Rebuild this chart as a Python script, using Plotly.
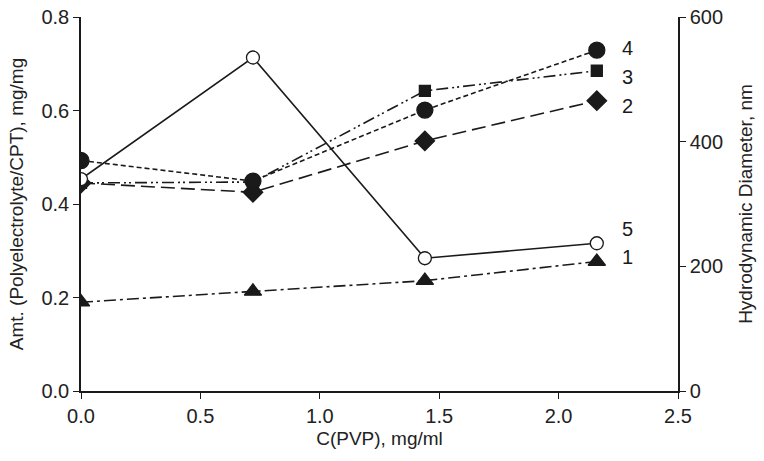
import plotly.graph_objects as go

x_pvp = [0.0, 0.72, 1.44, 2.16]
s1 = [0.19, 0.213, 0.236, 0.277]
s2 = [0.445, 0.425, 0.535, 0.621]
s3 = [0.445, 0.447, 0.642, 0.685]
s4 = [0.493, 0.449, 0.601, 0.729]
s5_diam = [340, 535, 213, 237]

label_x = 2.29
label_y_left = [0.287, 0.61, 0.672, 0.734]
label_y_right = [260]

fig = go.Figure()
ink = "#1a1a1a"

def add(y, dash, symbol, size, name, yaxis="y", fill=ink):
    fig.add_trace(go.Scatter(
        x=x_pvp, y=y, mode="lines+markers", name=name, yaxis=yaxis,
        line=dict(color=ink, width=1.6, dash=dash),
        marker=dict(symbol=symbol, size=size, color=fill,
                    line=dict(color=ink, width=1.3)),
        showlegend=False))

add(s1, "12px,4px,3px,4px", "triangle-up", 15, "1")
add(s2, "14px,6px", "diamond", 15, "2")
add(s3, "12px,4px,2px,3px,2px,4px", "square", 11, "3")
add(s4, "5px,3px", "circle", 16, "4")
add(s5_diam, "solid", "circle", 13, "5", yaxis="y2", fill="white")

FONT = "Liberation Sans, Arial, sans-serif"
for t, yv in zip(["1", "2", "3", "4"], label_y_left):
    fig.add_annotation(x=label_x, y=yv, text=t, showarrow=False, xref="x", yref="y",
                       font=dict(size=20, color=ink, family=FONT))
fig.add_annotation(x=label_x, y=label_y_right[0], text="5", showarrow=False, xref="x", yref="y2",
                   font=dict(size=20, color=ink, family=FONT))

axfont = dict(family=FONT, size=20, color="#222")
tfont = dict(family=FONT, size=19, color="#222")
common = dict(showgrid=False, zeroline=False, showline=True, linecolor=ink, linewidth=1.5,
              ticks="outside", ticklen=6, tickcolor=ink, tickwidth=1.3, tickfont=axfont,
              automargin=False)

fig.update_layout(
    width=764, height=461, plot_bgcolor="white", paper_bgcolor="white",
    margin=dict(l=81, r=86, t=17, b=70),
    font=dict(family=FONT, color="#222"),
    xaxis=dict(range=[0, 2.5], tickvals=[0, 0.5, 1.0, 1.5, 2.0, 2.5], tickformat=".1f",
               title=dict(text="C(PVP), mg/ml", font=tfont, standoff=6), **common),
    yaxis=dict(range=[0, 0.8], tickvals=[0, 0.2, 0.4, 0.6, 0.8], tickformat=".1f",
               title=dict(text="Amt. (Polyelectrolyte/CPT), mg/mg", font=tfont, standoff=13), **common),
    yaxis2=dict(range=[0, 600], tickvals=[0, 200, 400, 600], overlaying="y", side="right",
                title=dict(text="Hydrodynamic Diameter, nm", font=tfont, standoff=17), **common),
)

fig.write_html("out.html", config={"displayModeBar": False},
               post_script="document.body.style.margin='0';")
